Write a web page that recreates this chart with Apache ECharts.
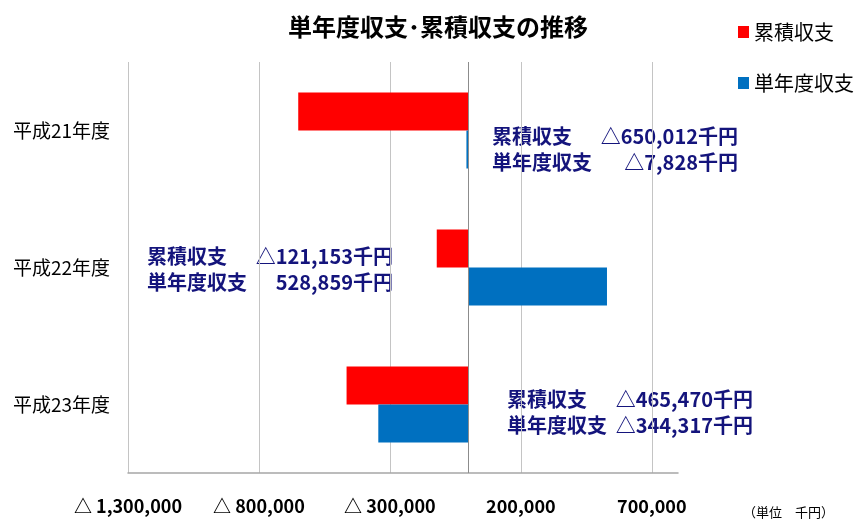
<!DOCTYPE html>
<html>
<head>
<meta charset="utf-8">
<script src="https://cdn.jsdelivr.net/npm/echarts@6/dist/echarts.min.js"></script>
<style>
html, body { margin: 0; padding: 0; background: #fff; }
#chart { width: 855px; height: 527px; }
</style>
</head>
<body>
<div id="chart"></div>
<script>
// 単位: 千円
var years = ['平成21年度', '平成22年度', '平成23年度'];
var cumulative = [-650012, -121153, -465470];   // 累積収支
var annual = [-7828, 528859, -344317];          // 単年度収支
var xTicks = [-1300000, -800000, -300000, 200000, 700000];

var FONT = '"Noto Sans CJK JP", "Noto Sans", sans-serif';
var NAVY = '#14147c';

function fmt(v) {
	var s = Math.abs(v).toLocaleString('en-US');
	return v < 0 ? '△' + s : s;
}

// annotation boxes: left edge of label, right edge of value, first row y
var notes = [
	{ left: 492, right: 738, y: 137 },
	{ left: 147, right: 393, y: 257 },
	{ left: 507, right: 753, y: 400 }
];

var graphics = [];
notes.forEach(function (n, i) {
	var rows = [['累積収支', cumulative[i]], ['単年度収支', annual[i]]];
	rows.forEach(function (r, j) {
		var y = n.y + j * 26;
		graphics.push({
			type: 'text', left: n.left, top: y - 11,
			style: { text: r[0], font: 'bold 20px ' + FONT, fill: NAVY }
		});
		graphics.push({
			type: 'text', right: 855 - n.right, top: y - 11,
			style: { text: fmt(r[1]) + '千円', font: 'bold 20px ' + FONT, fill: NAVY }
		});
	});
});
graphics.push({
	type: 'text', left: 743, top: 506,
	style: { text: '（単位　千円）', font: '13px ' + FONT, fill: '#000' }
});

var chartDom = document.getElementById('chart');
var myChart = echarts.init(chartDom);
var option;

option = {
	animation: false,
	title: {
		text: '単年度収支･累積収支の推移',
		left: 433,
		textAlign: 'center',
		top: 10,
		textStyle: { fontFamily: FONT, fontSize: 24, fontWeight: 'bold', color: '#000' }
	},
	legend: {
		data: ['累積収支', '単年度収支'],
		orient: 'vertical',
		left: 733,
		top: 17,
		itemGap: 31,
		itemWidth: 11,
		itemHeight: 12,
		icon: 'rect',
		textStyle: { fontFamily: FONT, fontSize: 20, color: '#000' }
	},
	grid: {
		left: 128,
		right: 177,
		top: 62,
		bottom: 54
	},
	xAxis: {
		type: 'value',
		min: -1300000,
		max: 800000,
		interval: 500000,
		axisLine: { show: true, onZero: false, lineStyle: { color: '#a6a6a6', width: 1.5 } },
		axisTick: { show: false },
		axisLabel: {
			margin: 24,
			showMaxLabel: false,
			fontFamily: FONT,
			fontSize: 18,
			fontWeight: 'bold',
			color: '#000',
			formatter: function (v) {
				if (xTicks.indexOf(v) < 0) return '';
				return v < 0 ? '△ ' + Math.abs(v).toLocaleString('en-US') : v.toLocaleString('en-US');
			}
		},
		splitLine: {
			show: true,
			showMaxLine: false,
			lineStyle: { color: '#c4c4c4', width: 1 }
		}
	},
	yAxis: {
		type: 'category',
		data: years,
		inverse: true,
		axisLine: { show: false, onZero: false },
		axisTick: { show: false },
		axisLabel: {
			margin: 18,
			fontFamily: FONT,
			fontSize: 19,
			color: '#000'
		}
	},
	graphic: graphics,
	series: [
		{
			name: '累積収支',
			type: 'bar',
			data: cumulative,
			barWidth: 38,
			barGap: '0%',
			itemStyle: { color: '#ff0000' },
			markLine: {
				silent: true,
				symbol: 'none',
				label: { show: false },
				lineStyle: { color: '#8c8c8c', type: 'solid', width: 1 },
				data: [{ xAxis: 0 }]
			}
		},
		{
			name: '単年度収支',
			type: 'bar',
			data: annual,
			barWidth: 38,
			barGap: '0%',
			itemStyle: { color: '#0070c0' }
		}
	]
};

option && myChart.setOption(option);
</script>
</body>
</html>
